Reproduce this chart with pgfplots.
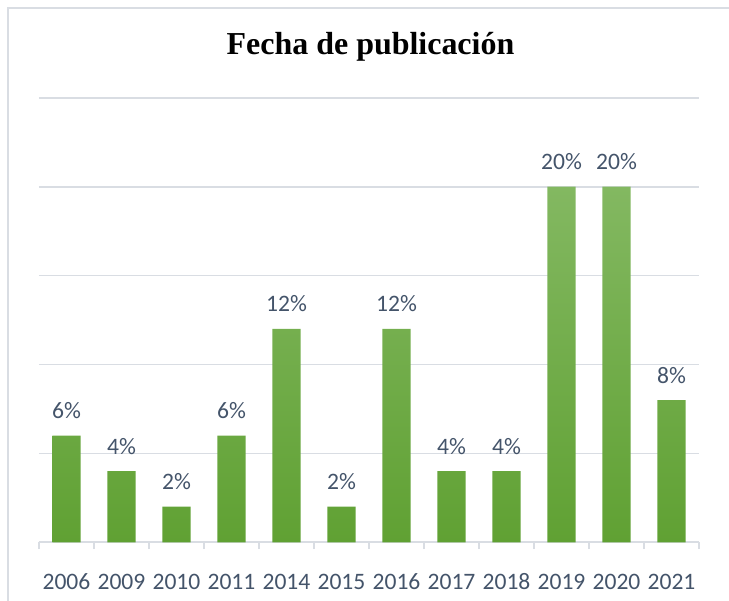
\documentclass[border=0pt]{standalone}
\usepackage{fontspec}
\setmainfont{Carlito}
\newfontfamily\titlefont{Liberation Serif}
\usepackage{pgfplots}
\pgfplotsset{compat=1.18}
\definecolor{txt}{HTML}{44546A}
\definecolor{grd}{HTML}{D9DDE3}
\definecolor{gtop}{RGB}{131,184,97}
\definecolor{gbot}{RGB}{96,161,51}
\begin{document}
\begin{tikzpicture}
\useasboundingbox (-19.5pt,-29pt) rectangle (345.5pt,271.5pt);
\draw[grd, line width=0.9pt] (-15.5pt,-40pt) -- (-15.5pt,267.5pt) -- (360pt,267.5pt);
\begin{axis}[
  scale only axis,
  width=330.5pt, height=222.5pt,
  xmin=-0.5, xmax=11.5, ymin=0, ymax=25,
  axis x line*=bottom, axis y line*=left,
  y axis line style={draw=none},
  x axis line style={grd, line width=0.8pt},
  xtick={0,...,11},
  xticklabels={2006,2009,2010,2011,2014,2015,2016,2017,2018,2019,2020,2021},
  major x tick style={draw=none},
  minor xtick={-0.5,0.5,...,11.5},
  minor x tick style={grd, line width=0.8pt},
  minor tick length=3.5pt,
  tick align=outside,
  xticklabel style={anchor=base, yshift=-19.5pt, inner sep=0pt, font=\fontsize{11.8pt}{14pt}\selectfont, text=txt},
  ytick={0,5,...,25},
  yticklabels={},
  major y tick style={draw=none},
  ymajorgrids,
  major grid style={grd, line width=0.8pt},
  clip=false,
]
\addplot[ybar, bar width=14.15pt, draw=none, top color=gtop, bottom color=gbot,
  nodes near coords={\pgfmathprintnumber[assume math mode=true]{\pgfplotspointmeta}\%},
  nodes near coords style={anchor=base, yshift=8.5pt, inner sep=0pt, font=\fontsize{11.8pt}{14pt}\selectfont, text=txt}]
coordinates {(0,6) (1,4) (2,2) (3,6) (4,12) (5,2) (6,12) (7,4) (8,4) (9,20) (10,20) (11,8)};
\end{axis}
\node[font=\titlefont\bfseries\fontsize{16pt}{19pt}\selectfont, text=black] at (166pt,248pt) {Fecha de publicación};
\end{tikzpicture}
\end{document}
